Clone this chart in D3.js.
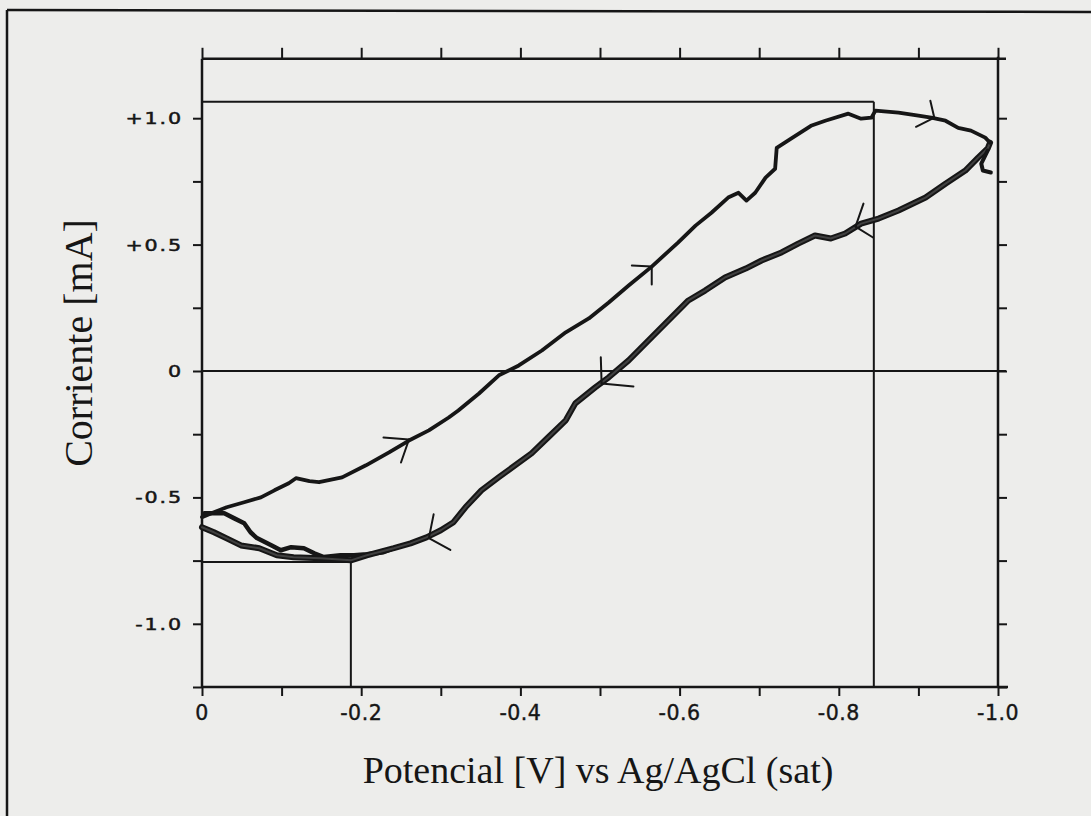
<!DOCTYPE html>
<html>
<head>
<meta charset="utf-8">
<script src="https://cdn.jsdelivr.net/npm/d3@7"></script>
<style>
  body { margin: 0; background: #ededeb; }
  svg { display: block; }
</style>
</head>
<body>
<svg id="chart" width="1091" height="816"></svg>
<script>
// forward scan, 0 -> -1.0 V  [potential V, current mA]
const forwardScan = [
  [0.000,-0.578],[-0.015,-0.559],[-0.031,-0.539],[-0.053,-0.519],[-0.074,-0.500],
  [-0.091,-0.472],[-0.109,-0.444],[-0.118,-0.424],[-0.135,-0.436],[-0.147,-0.440],
  [-0.176,-0.421],[-0.206,-0.373],[-0.235,-0.322],[-0.260,-0.275],[-0.285,-0.235],
  [-0.310,-0.184],[-0.322,-0.156],[-0.348,-0.089],[-0.373,-0.017],[-0.398,0.022],
  [-0.427,0.081],[-0.457,0.153],[-0.486,0.208],[-0.511,0.271],[-0.536,0.338],
  [-0.565,0.413],[-0.598,0.508],[-0.620,0.575],[-0.640,0.626],[-0.661,0.686],
  [-0.674,0.705],[-0.684,0.674],[-0.695,0.705],[-0.708,0.765],[-0.720,0.800],
  [-0.722,0.883],[-0.740,0.919],[-0.765,0.970],[-0.783,0.990],[-0.812,1.018],
  [-0.828,0.998],[-0.841,1.002],[-0.846,1.030],[-0.875,1.022],[-0.900,1.010],
  [-0.916,1.002],[-0.934,0.990],[-0.950,0.962],[-0.966,0.951],[-0.984,0.923],
  [-0.990,0.903]
];

// reverse scan, -1.0 -> 0 V
const reverseScan = [
  [-0.990,0.903],[-0.987,0.880],[-0.975,0.844],[-0.959,0.793],[-0.934,0.741],
  [-0.909,0.686],[-0.875,0.635],[-0.850,0.603],[-0.828,0.583],[-0.808,0.544],
  [-0.790,0.524],[-0.770,0.536],[-0.749,0.504],[-0.728,0.469],[-0.703,0.437],
  [-0.683,0.405],[-0.657,0.370],[-0.632,0.318],[-0.611,0.279],[-0.586,0.200],
  [-0.561,0.121],[-0.536,0.042],[-0.511,-0.025],[-0.494,-0.065],[-0.469,-0.128],
  [-0.457,-0.195],[-0.435,-0.262],[-0.414,-0.326],[-0.373,-0.420],[-0.351,-0.472],
  [-0.331,-0.539],[-0.316,-0.598],[-0.300,-0.630],[-0.282,-0.658],[-0.262,-0.682],
  [-0.241,-0.701],[-0.207,-0.729],[-0.187,-0.749],[-0.149,-0.741],[-0.115,-0.737],
  [-0.094,-0.729],[-0.072,-0.701],[-0.049,-0.690],[-0.031,-0.662],[-0.015,-0.638],
  [0.000,-0.618]
];

// second trace near the start of the sweep
const secondTrace = [
  [-0.003,-0.563],[-0.028,-0.563],[-0.040,-0.582],[-0.053,-0.602],[-0.061,-0.638],
  [-0.069,-0.661],[-0.087,-0.689],[-0.099,-0.709],[-0.112,-0.697],[-0.128,-0.701],
  [-0.141,-0.721],[-0.153,-0.736],[-0.174,-0.729],[-0.191,-0.729],[-0.207,-0.725],
  [-0.228,-0.717],[-0.241,-0.701]
];

const switchTail = [[-0.987,0.872],[-0.979,0.820],[-0.981,0.793],[-0.991,0.785]];

// hand drawn arrows: tip, barb 1, barb 2
const arrowTips  = [[-0.260,-0.271],[-0.565,0.413],[-0.920,1.002],[-0.502,-0.049],[-0.821,0.571],[-0.285,-0.661]];
const arrowBarbA = [[-0.228,-0.263],[-0.540,0.417],[-0.915,1.069],[-0.501,0.054],[-0.831,0.662],[-0.291,-0.567]];
const arrowBarbB = [[-0.250,-0.362],[-0.565,0.342],[-0.897,0.966],[-0.542,-0.061],[-0.843,0.528],[-0.312,-0.708]];

// peak markers
const peakAnodic   = [-0.844, 1.065];
const peakCathodic = [-0.187, -0.756];

const xTickValues = [0, -0.2, -0.4, -0.6, -0.8, -1.0];
const xTickLabels = ["0", "-0.2", "-0.4", "-0.6", "-0.8", "-1.0"];
const xMinorTicks = [0, -0.1, -0.2, -0.3, -0.4, -0.5, -0.6, -0.7, -0.8, -0.9, -1.0];
const yTickValues = [1.0, 0.5, 0, -0.5, -1.0];
const yTickLabels = ["+1.0", "+0.5", "0", "-0.5", "-1.0"];
const yMinorTicks = [1.0, 0.75, 0.5, 0.25, 0, -0.25, -0.5, -0.75, -1.0, -1.25];

const svg = d3.select("#chart");
const ink = "#161616";

const x = d3.scaleLinear().domain([0, -1.0]).range([202, 998]);
const y = d3.scaleLinear().domain([-1.25, 1.25]).range([687, 55]);
const yTop = 1.235;

// outer scan border
svg.append("line").attr("x1", 7).attr("y1", 10).attr("x2", 1091).attr("y2", 12)
  .attr("stroke", ink).attr("stroke-width", 2.5);
svg.append("line").attr("x1", 7).attr("y1", 10).attr("x2", 7).attr("y2", 816)
  .attr("stroke", ink).attr("stroke-width", 2.5);

// axes (ticks only)
function styleAxis(g) {
  g.select(".domain").remove();
  g.selectAll(".tick line").attr("stroke", ink).attr("stroke-width", 2);
}
svg.append("g").attr("transform", `translate(${x(0)},0)`)
  .call(d3.axisLeft(y).tickValues(yMinorTicks).tickSize(9).tickFormat("")).call(styleAxis);
svg.append("g").attr("transform", `translate(${x(-1)},0)`)
  .call(d3.axisRight(y).tickValues(yMinorTicks).tickSize(9).tickFormat("")).call(styleAxis);
svg.append("g").attr("transform", `translate(0,${y(-1.25)})`)
  .call(d3.axisBottom(x).tickValues(xMinorTicks).tickSize(9).tickFormat("")).call(styleAxis);
svg.append("g").attr("transform", `translate(0,${y(yTop)})`)
  .call(d3.axisTop(x).tickValues(xMinorTicks).tickSize(11).tickFormat("")).call(styleAxis);

// frame
const frame = svg.append("g").attr("stroke", ink).attr("stroke-width", 2.5);
frame.append("line").attr("x1", x(0)).attr("x2", x(-1) + 8).attr("y1", y(yTop)).attr("y2", y(yTop));
frame.append("line").attr("x1", x(0)).attr("x2", x(-1) + 10).attr("y1", y(-1.25)).attr("y2", y(-1.25));
frame.append("line").attr("x1", x(0)).attr("x2", x(0)).attr("y1", y(yTop)).attr("y2", y(-1.25));
frame.append("line").attr("x1", x(-1)).attr("x2", x(-1)).attr("y1", y(yTop) - 2).attr("y2", y(-1.25));

// zero line and peak markers
const guides = svg.append("g").attr("stroke", ink).attr("stroke-width", 2);
guides.append("line").attr("x1", x(0)).attr("x2", x(-1) + 8).attr("y1", y(0)).attr("y2", y(0));
guides.append("line").attr("x1", x(0)).attr("x2", x(peakAnodic[0]))
  .attr("y1", y(peakAnodic[1])).attr("y2", y(peakAnodic[1]));
guides.append("line").attr("x1", x(peakAnodic[0])).attr("x2", x(peakAnodic[0]))
  .attr("y1", y(peakAnodic[1])).attr("y2", y(-1.25));
guides.append("line").attr("x1", x(0)).attr("x2", x(peakCathodic[0]))
  .attr("y1", y(peakCathodic[1])).attr("y2", y(peakCathodic[1]));
guides.append("line").attr("x1", x(peakCathodic[0])).attr("x2", x(peakCathodic[0]))
  .attr("y1", y(peakCathodic[1])).attr("y2", y(-1.25));

// curves
const line = d3.line().x(d => x(d[0])).y(d => y(d[1]));
function trace(data, w, color) {
  svg.append("path").datum(data).attr("d", line)
    .attr("fill", "none").attr("stroke", color).attr("stroke-width", w)
    .attr("stroke-linejoin", "round").attr("stroke-linecap", "round");
}
trace(secondTrace, 4.5, ink);
trace(reverseScan, 6, ink);
trace(reverseScan, 2, "#404040");
trace(switchTail, 4, ink);
trace(forwardScan, 3.8, ink);

// arrows
const arrows = svg.append("g").attr("stroke", ink).attr("stroke-width", 2)
  .attr("stroke-linecap", "round");
arrowTips.forEach(function(t, i) {
  [arrowBarbA[i], arrowBarbB[i]].forEach(function(b) {
    arrows.append("line").attr("x1", x(t[0])).attr("y1", y(t[1]))
      .attr("x2", x(b[0])).attr("y2", y(b[1]));
  });
});

// tick labels
svg.append("g").selectAll("text").data(yTickValues).join("text")
  .attr("transform", d => `translate(183,${y(d) + 6}) scale(1.25,1)`)
  .attr("text-anchor", "end")
  .attr("font-family", "DejaVu Sans").attr("font-size", 16.5)
  .attr("letter-spacing", 1.5).attr("fill", ink)
  .attr("stroke", ink).attr("stroke-width", 0.5)
  .text((d, i) => yTickLabels[i]);

svg.append("g").selectAll("text").data(xTickValues).join("text")
  .attr("x", d => x(d)).attr("y", 720)
  .attr("text-anchor", "middle")
  .attr("font-family", "DejaVu Sans").attr("font-size", 20.5)
  .attr("letter-spacing", 0.5).attr("fill", ink)
  .attr("stroke", ink).attr("stroke-width", 0.4)
  .text((d, i) => xTickLabels[i]);

// axis titles
svg.append("text")
  .attr("x", 598).attr("y", 783).attr("text-anchor", "middle")
  .attr("font-family", "Liberation Serif").attr("font-size", 38).attr("fill", ink)
  .text("Potencial [V] vs Ag/AgCl (sat)");

svg.append("text")
  .attr("transform", "translate(92,343) rotate(-90)").attr("text-anchor", "middle")
  .attr("font-family", "Liberation Serif").attr("font-size", 40).attr("fill", ink)
  .text("Corriente [mA]");
</script>
</body>
</html>
